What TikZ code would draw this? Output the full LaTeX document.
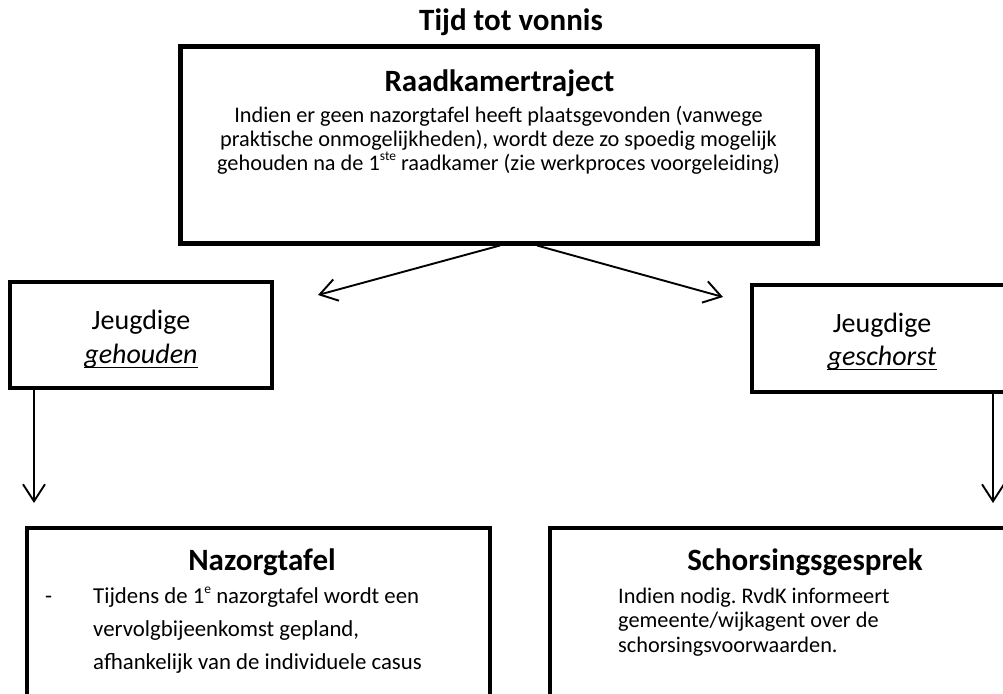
\documentclass[tikz,border=0pt]{standalone}
\usepackage{fontspec}
\setmainfont{Carlito}
\usetikzlibrary{arrows.meta}
\frenchspacing
\newcommand{\hdfont}{\fontsize{31}{37}\selectfont\bfseries}
\newcommand{\bdfont}{\fontsize{22.3}{26}\selectfont}
\newcommand{\nzfont}{\fontsize{22.8}{26}\selectfont}
\newcommand{\jgfont}{\fontsize{28}{34}\selectfont}
\newcommand{\mysup}[1]{\raisebox{0.42em}{\fontsize{13.5}{14}\selectfont #1}}
\begin{document}
\begin{tikzpicture}[x=1pt,y=-1pt,
  box/.style={draw, rectangle, line width=4.6pt, inner sep=0pt},
  conn/.style={line width=1.9pt, -{Straight Barb[length=17pt,width=22pt,line width=1.9pt]}},
  uline/.style={line width=1.6pt},
  hd/.style={anchor=base, inner sep=0pt, font=\hdfont},
  bd/.style={anchor=base, inner sep=0pt, font=\bdfont},
  bdl/.style={anchor=base west, inner sep=0pt, font=\bdfont},
  nzl/.style={anchor=base west, inner sep=0pt, font=\nzfont},
  jg/.style={anchor=base, inner sep=0pt, font=\jgfont}]
\useasboundingbox (0,0) rectangle (1003,693);
\clip (0,0) rectangle (1003,693);
\fill[white] (0,0) rectangle (1003,693);

% title
\node[hd] (title) at (511,31) {Tijd tot vonnis};

% Raadkamertraject
\node[box, line width=5pt, minimum width=637pt, minimum height=196pt] (rk) at (498.5,145) {};
\node[hd] (rkh) at (499.5,91) {Raadkamertraject};
\node[bd] (rk1) at (498.5,122) {Indien er geen nazorgtafel heeft plaatsgevonden (vanwege};
\node[bd] (rk2) at (498.5,146) {praktische onmogelijkheden), wordt deze zo spoedig mogelijk};
\node[bd] (rk3) at (498.5,170) {gehouden na de 1\mysup{ste} raadkamer (zie werkproces voorgeleiding)};

% Jeugdige boxes
\node[box, minimum width=262pt, minimum height=106pt] (geh) at (141,335) {};
\node[jg] (geh1) at (141,329) {Jeugdige};
\node[jg] (geh2) at (141,363) {\textit{gehouden}};
\draw[uline] ([yshift=-4.5pt]geh2.base west) -- ([yshift=-4.5pt]geh2.base east);

\node[box, minimum width=268pt, minimum height=107pt] (gesch) at (886,338.5) {};
\node[jg] (gesch1) at (882,332) {Jeugdige};
\node[jg] (gesch2) at (882,365) {\textit{geschorst}};
\draw[uline] ([yshift=-4.5pt]gesch2.base west) -- ([yshift=-4.5pt]gesch2.base east);

% arrows from Raadkamertraject
\coordinate (ltip) at (318,295);
\coordinate (rtip) at (723,297);
\draw[conn] ([xshift=1.5pt]rk.south) -- (ltip);
\draw[conn] ([xshift=38.5pt]rk.south) -- (rtip);

% down arrows
\coordinate (dl) at (34,503);
\coordinate (dr) at (993,503);
\draw[conn] ([xshift=-107pt]geh.south) -- (dl);
\draw[conn] ([xshift=107pt]gesch.south) -- (dr);

% Nazorgtafel
\node[box, minimum width=463pt, minimum height=187pt] (naz) at (258.5,621.5) {};
\node[hd] (nazh) at (262,570) {Nazorgtafel};
\node[nzl] (nazd) at (45,603) {-};
\node[nzl] (naz1) at (93,603) {Tijdens de 1\mysup{e} nazorgtafel wordt een};
\node[nzl] (naz2) at (93,636) {vervolgbijeenkomst gepland,};
\node[nzl] (naz3) at (93,669) {afhankelijk van de individuele casus};

% Schorsingsgesprek
\node[box, minimum width=470pt, minimum height=187pt] (sch) at (785,621.5) {};
\node[hd] (schh) at (805,570) {Schorsingsgesprek};
\node[bdl] (sch1) at (618,603) {Indien nodig. RvdK informeert};
\node[bdl] (sch2) at (618,627) {gemeente/wijkagent over de};
\node[bdl] (sch3) at (618,652) {schorsingsvoorwaarden.};
\end{tikzpicture}
\end{document}
